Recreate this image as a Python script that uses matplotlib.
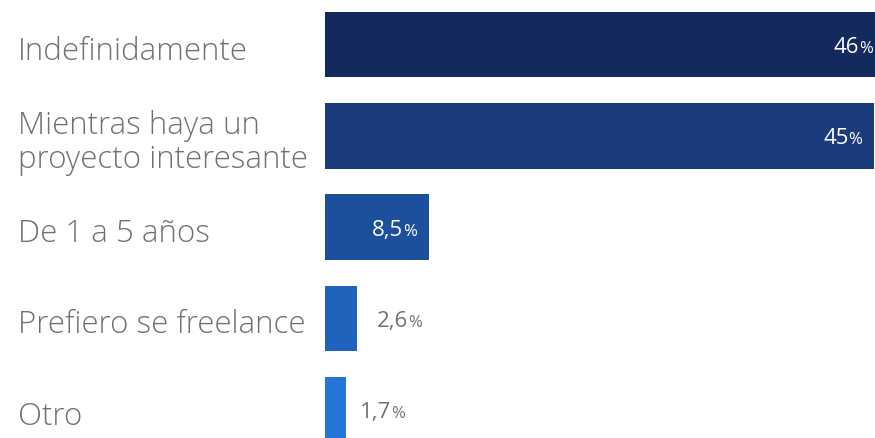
import matplotlib
matplotlib.use("Agg")
import matplotlib.pyplot as plt
from matplotlib.transforms import offset_copy, blended_transform_factory

categories = ["Indefinidamente", "Mientras haya un\nproyecto interesante",
              "De 1 a 5 años", "Prefiero se freelance", "Otro"]
values = [46, 45, 8.5, 2.6, 1.7]
value_labels = ["46", "45", "8,5", "2,6", "1,7"]
colors = ["#142a5e", "#1a3c7c", "#1c4f9c", "#1f63bd", "#2475d7"]
inside = [True, True, True, False, False]

plt.rcParams['font.family'] = ['Open Sans', 'DejaVu Sans']

fig = plt.figure(figsize=(8.75, 4.39), dpi=100)
ax = fig.add_axes([325 / 875, 0, 550 / 875, 1])

ypos = list(range(len(values)))
ax.barh(ypos, values, height=0.72, color=colors)
xmax = 45.05
ax.set_xlim(0, xmax)
ax.set_ylim(4.31, -0.5)
ax.axis('off')

gray = "#6d7279"
lab_tr = offset_copy(blended_transform_factory(fig.transFigure, ax.transData),
                     fig=fig, x=0, y=-6, units='dots')
for y, lab in zip(ypos, categories):
    ax.text(18 / 875, y, lab, transform=lab_tr, fontsize=22.5,
            color=gray, ha='left', va='center', linespacing=1.05,
            fontweight='light')

fig.canvas.draw()
renderer = fig.canvas.get_renderer()

num_size, pct_size = 16, 12
dy = -7.5  # baseline shift so the digits sit centred on the bar
for y, v, lab, ins in zip(ypos, values, value_labels, inside):
    if ins:
        xend = min(v, xmax)
        pad = 2 if v > 45.5 else 12
        pct = ax.text(xend, y, "%", fontsize=pct_size, color="white", ha='right',
                      va='baseline',
                      transform=offset_copy(ax.transData, fig=fig, x=-pad, y=dy, units='dots'))
        w = pct.get_window_extent(renderer).width
        ax.text(xend, y, lab, fontsize=num_size, color="white", ha='right', va='baseline',
                transform=offset_copy(ax.transData, fig=fig, x=-pad - w, y=dy, units='dots'))
    else:
        gap = 20 if v > 2 else 14
        num = ax.text(v, y, lab, fontsize=num_size, color=gray, ha='left', va='baseline',
                      transform=offset_copy(ax.transData, fig=fig, x=gap, y=dy, units='dots'))
        w = num.get_window_extent(renderer).width
        ax.text(v, y, "%", fontsize=pct_size, color=gray, ha='left', va='baseline',
                transform=offset_copy(ax.transData, fig=fig, x=gap + w, y=dy, units='dots'))

fig.savefig("out.png", dpi=100, facecolor="white")
